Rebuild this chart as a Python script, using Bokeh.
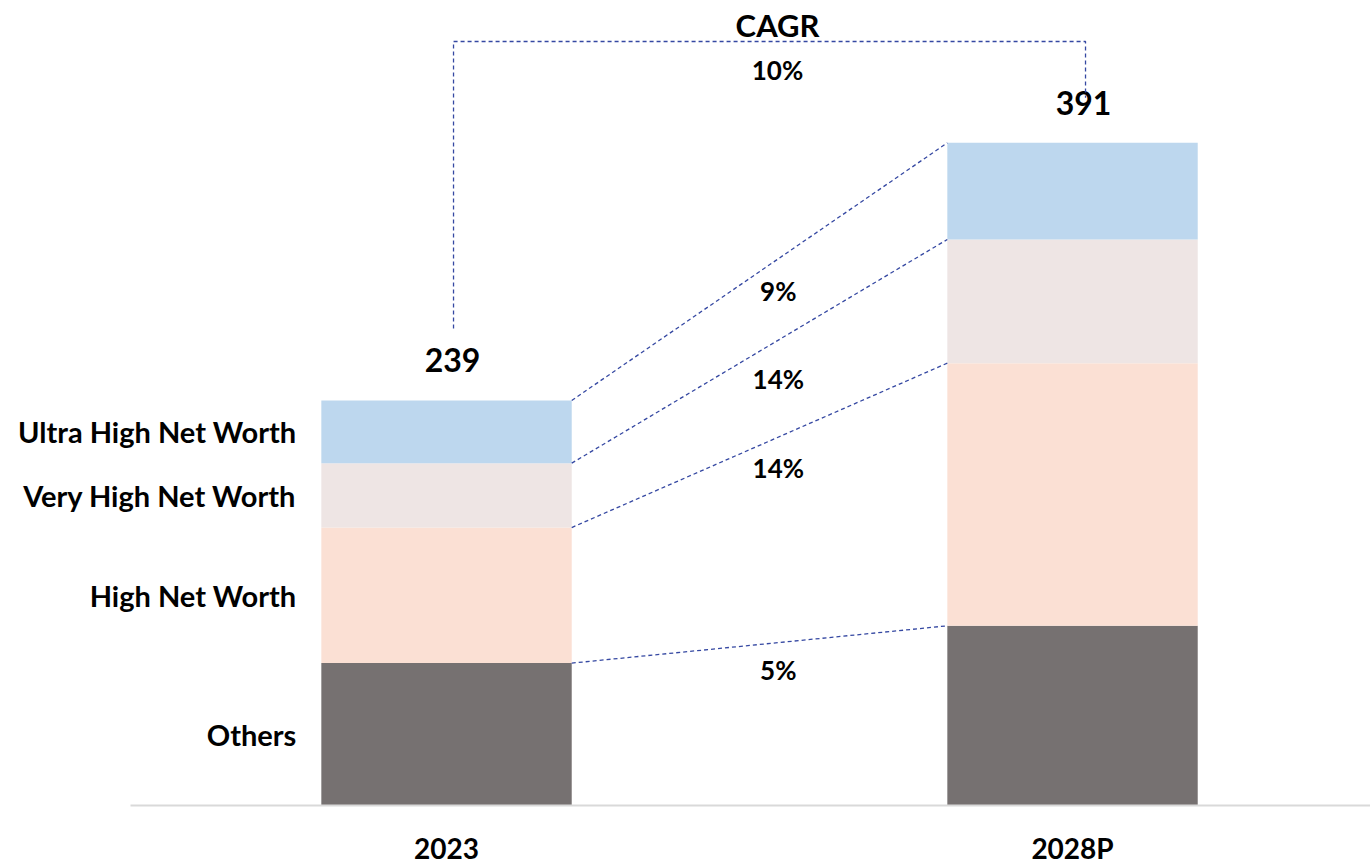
import numpy as np
from bokeh.plotting import figure
from bokeh.models import Range1d
from bokeh.core.properties import value
from bokeh.embed import file_html
from bokeh.resources import INLINE

years = ["2023", "2028P"]
segments = ["Others", "High Net Worth", "Very High Net Worth", "Ultra High Net Worth"]
others = [84, 106]
hnw = [80, 155]
vhnw = [38, 73]
uhnw = [37, 57]
totals = [239, 391]
seg_cagr = ["5%", "14%", "14%", "9%"]
total_cagr = "10%"
colors = ["#767171", "#FBE0D4", "#EEE5E4", "#BDD7EE"]

W, H = 1370, 867
FONT = "Lato"
LINE_COL = "#3548A2"
DASH = "4 3"

xs = np.array([0.0, 1.0])
bw = 0.4
y_lo, y_hi = -36.6, 475.0
x_lo, x_hi = -0.7125, 1.476
ppu_y = H / (y_hi - y_lo)
ppu_x = W / (x_hi - x_lo)

p = figure(width=W, height=H, output_backend="svg", toolbar_location=None,
           x_range=Range1d(x_lo, x_hi), y_range=Range1d(y_lo, y_hi),
           x_axis_type=None, y_axis_type=None, min_border=0)
p.outline_line_color = None
p.grid.visible = False
p.background_fill_color = "white"
p.border_fill_color = "white"

vals = np.array([others, hnw, vhnw, uhnw], dtype=float)
cum = np.vstack([np.zeros(2), np.cumsum(vals, axis=0)])

for i in range(4):
    p.vbar(x=xs, width=bw, bottom=cum[i], top=cum[i + 1], fill_color=colors[i], line_color=None)

# baseline axis line
p.segment(x0=[x_lo + 130 / ppu_x], y0=[0], x1=[x_hi], y1=[0], line_color="#D9D9D9", line_width=2)

# category labels
p.text(x=xs, y=[-43 / ppu_y] * 2, text=years, text_align="center", text_baseline="middle",
       text_font=value(FONT), text_font_style="bold", text_font_size="28px", text_color="black")

# connector lines between bars
x_l = xs[0] + bw / 2
x_r = xs[1] - bw / 2
y0s = cum[1:, 0]
y1s = cum[1:, 1]
p.segment(x0=[x_l] * 4, y0=y0s, x1=[x_r] * 4, y1=y1s, line_color=LINE_COL, line_width=1.3,
          line_dash=DASH)

# segment CAGR labels
x_pct = 0.53
t = (x_pct - x_l) / (x_r - x_l)
y_line = y0s + t * (y1s - y0s)
offs = np.array([27, 31, 39, 32])
p.text(x=[x_pct] * 4, y=y_line - offs / ppu_y, text=seg_cagr, text_align="center",
       text_baseline="middle", text_font=value(FONT), text_font_style="bold",
       text_font_size="26px", text_color="black")

# segment names beside 2023 bar
mids = (cum[:-1, 0] + cum[1:, 0]) / 2
p.text(x=[xs[0] - bw / 2 - 25 / ppu_x] * 4, y=mids, text=segments, text_align="right",
       text_baseline="middle", text_font=value(FONT), text_font_style="bold",
       text_font_size="29px", text_color="black")

# totals
p.text(x=[xs[0] + 6 / ppu_x, xs[1] + 11 / ppu_x], y=np.array(totals) + 40 / ppu_y,
       text=[str(v) for v in totals],
       text_align="center", text_baseline="middle", text_font=value(FONT), text_font_style="bold",
       text_font_size="32px", text_color="black")

# CAGR bracket
bx0 = xs[0] + 7 / ppu_x
bx1 = xs[1] + 13 / ppu_x
btop = y_hi - 41 / ppu_y
bl = totals[0] + 72 / ppu_y
br = totals[1] + 45 / ppu_y
p.line(x=[bx0, bx0, bx1, bx1], y=[bl, btop, btop, br], line_color=LINE_COL, line_width=1.3,
       line_dash=DASH)
bmid = (bx0 + bx1) / 2 + 8 / ppu_x
p.text(x=[bmid], y=[btop + 17 / ppu_y], text=["CAGR"], text_align="center", text_baseline="middle",
       text_font=value(FONT), text_font_style="bold", text_font_size="31px", text_color="black")
p.text(x=[bmid], y=[btop - 28 / ppu_y], text=[total_cagr], text_align="center", text_baseline="middle",
       text_font=value(FONT), text_font_style="bold", text_font_size="26px", text_color="black")

open("out.html", "w").write(file_html(p, INLINE))
